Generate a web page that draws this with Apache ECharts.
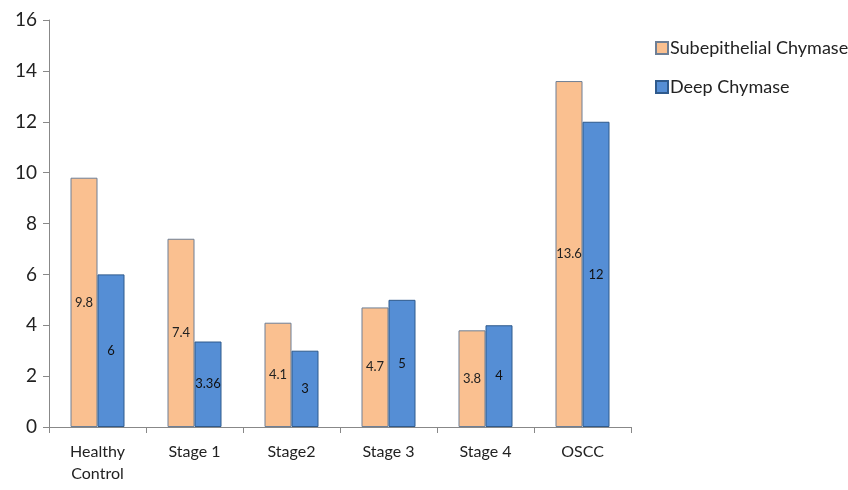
<!DOCTYPE html>
<html><head><meta charset="utf-8">
<script src="https://cdn.jsdelivr.net/npm/echarts@6/dist/echarts.min.js"></script>
<style>html,body{margin:0;padding:0;background:#fff}#c{width:848px;height:490px}</style>
</head><body><div id="c"></div>
<script>
const categories = ['Healthy\nControl', 'Stage 1', 'Stage2', 'Stage 3', 'Stage 4', 'OSCC'];
const subepithelial = [9.8, 7.4, 4.1, 4.7, 3.8, 13.6];
const deep = [6, 3.36, 3, 5, 4, 12];
const yTicks = [0, 2, 4, 6, 8, 10, 12, 14, 16];

const font = 'Lato, "Open Sans", sans-serif';
const chart = echarts.init(document.getElementById('c'));
chart.setOption({
  animation: false,
  textStyle: { fontFamily: font },
  grid: { left: 49, right: 217, top: 20, bottom: 63, containLabel: false },
  legend: {
    orient: 'vertical', left: 650, top: 34, itemGap: 21,
    itemWidth: 12, itemHeight: 12, icon: 'rect',
    textStyle: { fontSize: 18, color: '#222', fontFamily: font, padding: [0, 0, 0, -3] },
    data: ['Subepithelial Chymase', 'Deep Chymase']
  },
  xAxis: {
    type: 'category', data: categories,
    axisLine: { lineStyle: { color: '#888' } },
    axisTick: { show: true, alignWithLabel: false, length: 6, lineStyle: { color: '#888' } },
    axisLabel: { color: '#222', fontSize: 16, margin: 14, lineHeight: 22, fontFamily: font }
  },
  yAxis: {
    type: 'value', min: yTicks[0], max: yTicks[yTicks.length - 1], interval: 2,
    axisLine: { show: true, lineStyle: { color: '#888' } },
    axisTick: { show: true, length: 6, lineStyle: { color: '#888' } },
    splitLine: { show: false },
    axisLabel: { color: '#222', fontSize: 19, margin: 12, fontFamily: font }
  },
  series: [
    {
      name: 'Subepithelial Chymase', type: 'bar', data: subepithelial,
      barWidth: 27, barGap: '0%',
      itemStyle: { color: '#FAC090', borderColor: '#6E7F95', borderWidth: 1 },
      label: { show: true, position: 'inside', color: '#222', fontSize: 13, fontFamily: font }
    },
    {
      name: 'Deep Chymase', type: 'bar', data: deep,
      barWidth: 27,
      itemStyle: { color: '#558ED5', borderColor: '#2F5A8C', borderWidth: 1 },
      label: { show: true, position: 'inside', color: '#111', fontSize: 13, fontFamily: font }
    }
  ]
});
</script></body></html>
